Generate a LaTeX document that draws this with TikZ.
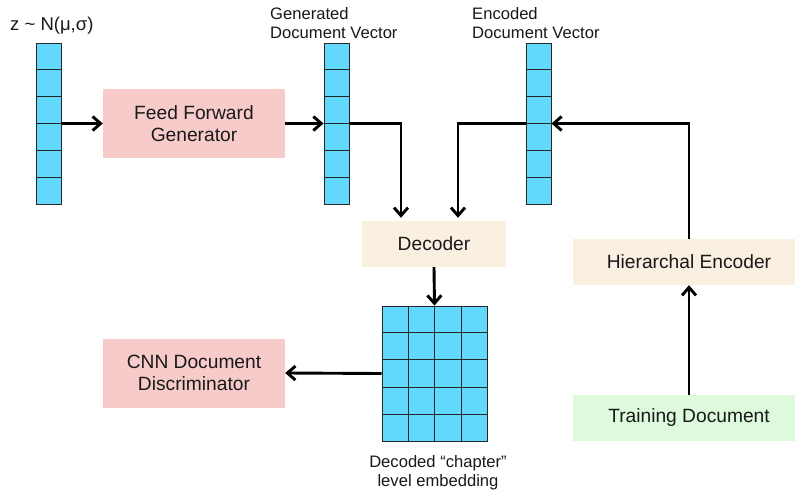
\documentclass[tikz,border=0pt]{standalone}
\usepackage{fontspec}
\setmainfont{Liberation Sans}
\usetikzlibrary{arrows.meta,calc}
\definecolor{cellc}{RGB}{98,216,252}
\definecolor{pinkc}{RGB}{248,203,203}
\definecolor{beigec}{RGB}{249,240,226}
\definecolor{greenc}{RGB}{222,250,220}
\definecolor{txtc}{RGB}{25,25,25}
\tikzset{
  vec/.style={draw=black!85, line width=0.9pt, fill=cellc, minimum width=25pt, minimum height=161pt, inner sep=0pt},
  gridbox/.style={draw=black!85, line width=0.9pt, fill=cellc, minimum width=105pt, minimum height=135pt, inner sep=0pt},
  box/.style={draw=none, minimum width=182pt, minimum height=69pt, align=center, font=\fontsize{19.2}{22.5}\selectfont, text=txtc, inner sep=0pt},
  wide/.style={box, minimum width=232pt, minimum height=46pt},
  lbl/.style={font=\fontsize{16.6}{19}\selectfont, text=txtc, inner sep=0pt, align=left},
  arr/.style={line width=2.9pt, -{Straight Barb[length=8pt,width=14pt]}},
  cell/.style={draw=black!85, line width=0.9pt}
}
\begin{document}
\begin{tikzpicture}[x=1pt,y=-1pt]
\clip (0,0) rectangle (795,495);
\fill[white] (0,0) rectangle (795,495);
% vectors
\node[vec] (z) at (48.5,123.5) {};
\node[vec] (gen) at (336.5,123.5) {};
\node[vec] (enc) at (538.5,123.5) {};
\foreach \v in {z,gen,enc}{
  \foreach \i in {1,...,5}{
    \draw[cell] ($(\v.north west)!\i/6!(\v.south west)$) -- ($(\v.north east)!\i/6!(\v.south east)$);
  }
}
% grid
\node[gridbox] (grid) at (434.5,373.5) {};
\foreach \i in {1,...,4}{
  \draw[cell] ($(grid.north west)!\i/5!(grid.south west)$) -- ($(grid.north east)!\i/5!(grid.south east)$);
}
\foreach \i in {1,...,3}{
  \draw[cell] ($(grid.north west)!\i/4!(grid.north east)$) -- ($(grid.south west)!\i/4!(grid.south east)$);
}
% boxes
\node[box, fill=pinkc] (ffg) at (194,123.5) {Feed Forward\\Generator};
\node[box, fill=pinkc] (cnn) at (194,373) {CNN Document\\Discriminator};
\node[box, fill=beigec, minimum width=144pt, minimum height=46pt] (dec) at (434,244) {Decoder};
\node[wide, fill=beigec] (hier) at (689,262) {Hierarchal Encoder};
\node[wide, fill=greenc] (train) at (689,418) {Training Document};
% labels
\node[lbl, anchor=west, font=\fontsize{18.5}{21}\selectfont] (zl) at (10,26) {z \char"007E\ N(μ,σ)};
\node[lbl, anchor=south west] (genl) at (270,39) {Generated\\Document Vector};
\node[lbl, anchor=south west] (encl) at (472,39) {Encoded\\Document Vector};
\node[lbl, align=center, anchor=north] (gridl) at (438,455) {Decoded “chapter”\\level embedding};
% connectors
\draw[arr] (z.east) -- (ffg.west);
\draw[arr] (ffg.east) -- (gen.west);
\draw[arr, shorten >=3pt] (gen.east) -| ($(dec.north)+(-33,0)$);
\draw[arr, shorten >=3pt] (enc.west) -| ($(dec.north)+(24,0)$);
\draw[arr] (hier.north) |- (enc.east);
\draw[arr] (train.north) -- (hier.south);
\draw[arr] (dec.south) -- (grid.north);
\draw[arr] (grid.west) -- (cnn.east);
\end{tikzpicture}
\end{document}
